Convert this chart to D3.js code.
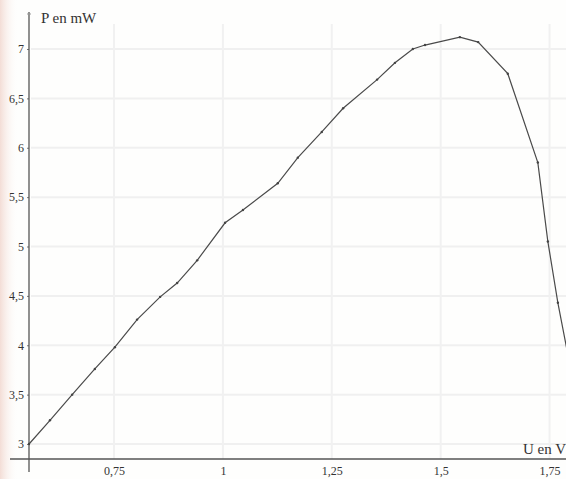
<!DOCTYPE html>
<html>
<head>
<meta charset="utf-8">
<script src="https://cdn.jsdelivr.net/npm/d3@7"></script>
<style>
  body { margin: 0; background: #fefefd; }
  svg { display: block; }
  text { font-family: "Liberation Serif", "DejaVu Serif", serif; fill: #333; }
</style>
</head>
<body>
<div id="chart"></div>
<script>
// U en V
var tension = [0.555, 0.603, 0.654, 0.706, 0.752, 0.803, 0.856, 0.895, 0.941, 1.005,
    1.046, 1.126, 1.172, 1.227, 1.276, 1.354, 1.395, 1.436, 1.464, 1.544,
    1.586, 1.654, 1.723, 1.746, 1.769, 1.79];
// P en mW
var puissance = [3.00, 3.24, 3.50, 3.76, 3.98, 4.26, 4.49, 4.63, 4.86, 5.24,
    5.37, 5.64, 5.90, 6.16, 6.40, 6.69, 6.86, 7.00, 7.04, 7.12,
    7.07, 6.75, 5.85, 5.05, 4.43, 3.95];

var xTicks = [0.75, 1, 1.25, 1.5, 1.75];
var yTicks = [3, 3.5, 4, 4.5, 5, 5.5, 6, 6.5, 7];

var width = 566, height = 479;

var svg = d3.select("#chart").append("svg")
    .attr("width", width)
    .attr("height", height);

// scanned paper tint on the left edge
var defs = svg.append("defs");
var grad = defs.append("linearGradient").attr("id", "edge");
grad.append("stop").attr("offset", "0%").attr("stop-color", "#f3ddd6");
grad.append("stop").attr("offset", "100%").attr("stop-color", "#fefefd").attr("stop-opacity", 0);
svg.append("rect").attr("x", 0).attr("y", 0).attr("width", 18).attr("height", height)
    .attr("fill", "url(#edge)");

var x = d3.scaleLinear().domain([0.75, 1.75]).range([114, 549.6]);
var y = d3.scaleLinear().domain([3, 7]).range([444, 49]);

var x0 = 29, y0 = 459;

var fmt = function (d) { return String(d).replace(".", ","); };

// grid
svg.append("g").selectAll("line.h")
    .data(yTicks)
    .enter().append("line")
    .attr("x1", x0 + 2).attr("x2", width)
    .attr("y1", function (d) { return y(d); })
    .attr("y2", function (d) { return y(d); })
    .attr("stroke", "#f0f0f0")
    .attr("stroke-width", 2);

svg.append("g").selectAll("line.v")
    .data(xTicks)
    .enter().append("line")
    .attr("x1", function (d) { return x(d); })
    .attr("x2", function (d) { return x(d); })
    .attr("y1", 24).attr("y2", y0)
    .attr("stroke", "#f1f1f1")
    .attr("stroke-width", 2);

// axes
var yAxis = d3.axisLeft(y).tickValues(yTicks).tickFormat(fmt).tickSize(2).tickPadding(3);
var gy = svg.append("g").attr("transform", "translate(" + x0 + ",0)").call(yAxis);
gy.select(".domain").remove();
gy.selectAll(".tick line").attr("stroke", "#777");
gy.selectAll("text").style("font-size", "12px");
svg.append("line").attr("x1", x0).attr("x2", x0).attr("y1", 12).attr("y2", 472)
    .attr("stroke", "#555").attr("stroke-width", 1.3);
svg.append("line").attr("x1", x0 - 2).attr("x2", x0 + 2).attr("y1", 14).attr("y2", 14)
    .attr("stroke", "#999").attr("stroke-width", 1);

var xAxis = d3.axisBottom(x).tickValues(xTicks).tickFormat(fmt).tickSize(0).tickPadding(7);
var gx = svg.append("g").attr("transform", "translate(0," + y0 + ")").call(xAxis);
gx.select(".domain").remove();
gx.selectAll("text").style("font-size", "12px");
svg.append("line").attr("x1", 10).attr("x2", width).attr("y1", y0).attr("y2", y0)
    .attr("stroke", "#555").attr("stroke-width", 1.3);

svg.append("text").attr("x", 41).attr("y", 23).style("font-size", "15px").text("P en mW");
svg.append("text").attr("x", 523).attr("y", 454).style("font-size", "15px").text("U en V");

// courbe
var pts = tension.map(function (u, i) { return [u, puissance[i]]; });

var line = d3.line()
    .x(function (d) { return x(d[0]); })
    .y(function (d) { return y(d[1]); });

svg.append("path")
    .datum(pts)
    .attr("d", line)
    .attr("fill", "none")
    .attr("stroke", "#4a4a4a")
    .attr("stroke-width", 1.2);

svg.append("g").selectAll("circle")
    .data(pts.slice(0, pts.length - 1))
    .enter().append("circle")
    .attr("cx", function (d) { return x(d[0]); })
    .attr("cy", function (d) { return y(d[1]); })
    .attr("r", 1.2)
    .attr("fill", "#444");
</script>
</body>
</html>
